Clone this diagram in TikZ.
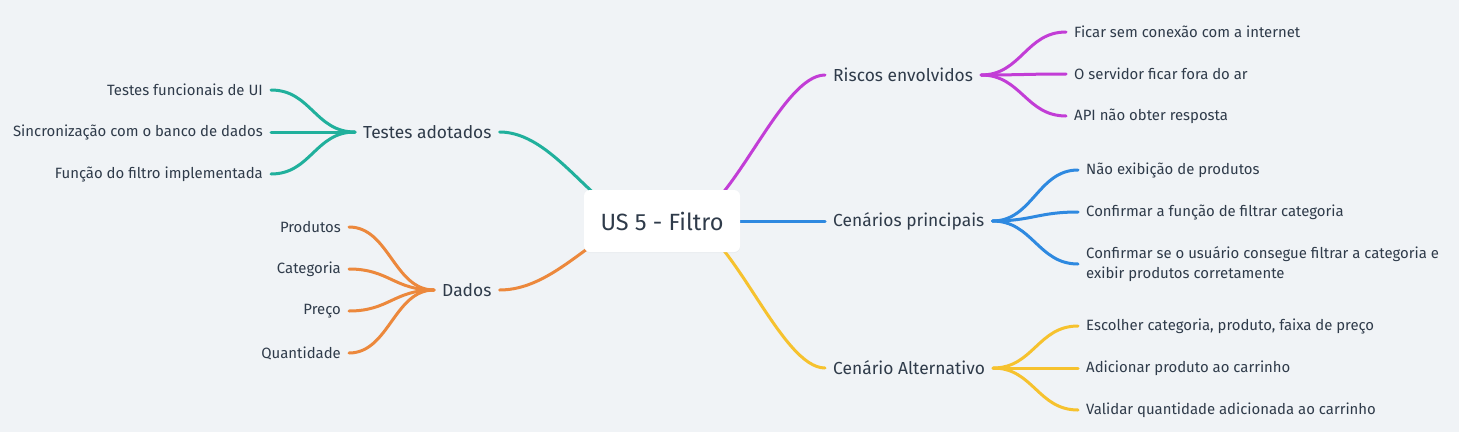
\documentclass[tikz,border=0pt]{standalone}
\usepackage{fontspec}
\setmainfont{Fira Sans}
\usetikzlibrary{calc}
\usetikzlibrary{positioning}
\usetikzlibrary{shadows}
\definecolor{bg-gray}{HTML}{F0F3F6}
\definecolor{txt-dark}{HTML}{2F3B4A}
\definecolor{br-teal}{HTML}{20B09C}
\definecolor{br-orange}{HTML}{EC883C}
\definecolor{br-purple}{HTML}{C23DD6}
\definecolor{br-blue}{HTML}{2E89E0}
\definecolor{br-yellow}{HTML}{F6C22E}

\begin{document}
\begin{tikzpicture}[x=1pt, y=-1pt,
  root/.style={rectangle, rounded corners=6pt, fill=white, text=txt-dark,
    minimum width=156pt, minimum height=62pt,
    font=\fontsize{23.5}{28}\selectfont,
    drop shadow={opacity=0.06, shadow xshift=0pt, shadow yshift=-1pt}},
  topic/.style={text=txt-dark, font=\fontsize{17.4}{20}\selectfont,
    inner xsep=8pt, inner ysep=2pt},
  leaf/.style={text=txt-dark, font=\fontsize{14.9}{20}\selectfont,
    inner xsep=8pt, inner ysep=2pt},
  link/.style={line width=3pt, line cap=round}]
% Canvas
\fill[bg-gray] (0, 0) rectangle (1459, 432);
\useasboundingbox (0, 0) rectangle (1459, 432);

% ---------------------------------------------------
% Root anchors (connectors run under the box)
\coordinate[] (root-l) at (634, 221);
\coordinate[] (root-r) at (690, 221);

% Topics
\node[topic, anchor=west] (tst) at (355, 132) {Testes adotados};
\node[topic, anchor=west] (dad) at (434, 290) {Dados};
\node[topic, anchor=west] (rsk) at (825, 75)  {Riscos envolvidos};
\node[topic, anchor=west] (cen) at (825, 221) {Cenários principais};
\node[topic, anchor=west] (alt) at (825, 368) {Cenário Alternativo};

% Leaves - left
\node[leaf, anchor=east] (t1) at (271, 90)  {Testes funcionais de UI};
\node[leaf, anchor=east] (t2) at (271, 132) {Sincronização com o banco de dados};
\node[leaf, anchor=east] (t3) at (271, 174) {Função do filtro implementada};
\node[leaf, anchor=east] (d1) at (349, 227) {Produtos};
\node[leaf, anchor=east] (d2) at (349, 269) {Categoria};
\node[leaf, anchor=east] (d3) at (349, 311) {Preço};
\node[leaf, anchor=east] (d4) at (349, 353) {Quantidade};

% Leaves - right
\node[leaf, anchor=west] (r1) at (1066, 32)  {Ficar sem conexão com a internet};
\node[leaf, anchor=west] (r2) at (1066, 74)  {O servidor ficar fora do ar};
\node[leaf, anchor=west] (r3) at (1066, 116) {API não obter resposta};
\node[leaf, anchor=west] (c1) at (1078, 170) {Não exibição de produtos};
\node[leaf, anchor=west] (c2) at (1078, 212) {Confirmar a função de filtrar categoria};
\node[leaf, anchor=west, align=left] (c3) at (1078, 264)
  {Confirmar se o usuário consegue filtrar a categoria e\\exibir produtos corretamente};
\node[leaf, anchor=west] (a1) at (1078, 326) {Escolher categoria, produto, faixa de preço};
\node[leaf, anchor=west] (a2) at (1078, 368) {Adicionar produto ao carrinho};
\node[leaf, anchor=west] (a3) at (1078, 410) {Validar quantidade adicionada ao carrinho};

% ---------------------------------------------------
% Root -> topics
\draw[link, br-teal]   (tst.east) .. controls +(52, 0) and +(-44, -16) .. (root-l);
\draw[link, br-orange] (dad.east) .. controls +(52, 0) and +(-44, 16) .. (root-l);
\draw[link, br-purple] (rsk.west) .. controls +(-43, 0) and +(45, -16) .. (root-r);
\draw[link, br-blue]   (cen.west) -- (root-r);
\draw[link, br-yellow] (alt.west) .. controls +(-43, 0) and +(45, 16) .. (root-r);

% Topic -> leaves
\foreach \leaf in {t1, t2, t3}
  \draw[link, br-teal] (tst.west) .. controls +(-40, 0) and +(40, 0) .. (\leaf.east);
\foreach \leaf in {d1, d2, d3, d4}
  \draw[link, br-orange] (dad.west) .. controls +(-40, 0) and +(40, 0) .. (\leaf.east);
\foreach \leaf in {r1, r2, r3}
  \draw[link, br-purple] (rsk.east) .. controls +(40, 0) and +(-40, 0) .. (\leaf.west);
\foreach \leaf in {c1, c2, c3}
  \draw[link, br-blue] (cen.east) .. controls +(40, 0) and +(-40, 0) .. (\leaf.west);
\foreach \leaf in {a1, a2, a3}
  \draw[link, br-yellow] (alt.east) .. controls +(40, 0) and +(-40, 0) .. (\leaf.west);

% Root
\node[root] (root) at (662, 221) {US 5 - Filtro};
\end{tikzpicture}
\end{document}
